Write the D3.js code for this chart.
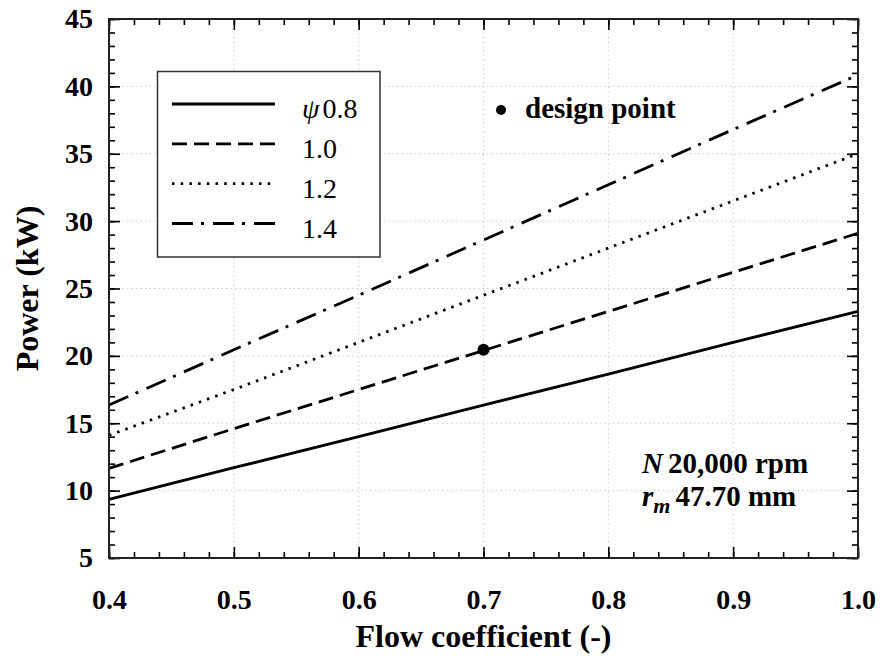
<!DOCTYPE html>
<html>
<head>
<meta charset="utf-8">
<script src="https://cdn.jsdelivr.net/npm/d3@7"></script>
</head>
<body style="margin:0; background:#fff">
<svg id="chart" width="881" height="661"></svg>
<script>
// flow coefficient samples
const phi = [0.4, 0.5, 0.6, 0.7, 0.8, 0.9, 1.0];

// power (kW), one array per loading coefficient
const psi08 = [9.35, 11.7, 14.0, 16.35, 18.65, 21.0, 23.3];
const psi10 = [11.65, 14.6, 17.5, 20.4, 23.3, 26.2, 29.1];
const psi12 = [14.1, 17.5, 21.0, 24.5, 28.0, 31.5, 35.0];
const psi14 = [16.35, 20.45, 24.5, 28.6, 32.7, 36.8, 40.85];

const seriesNames = ["0.8", "1.0", "1.2", "1.4"];
const designPoint = [0.7, 20.45];

const xTicks = [0.4, 0.5, 0.6, 0.7, 0.8, 0.9, 1.0];
const yTicks = [5, 10, 15, 20, 25, 30, 35, 40, 45];

const FONT = '"Liberation Serif"';

const width = 881, height = 661;
const margin = { left: 109, right: 23, top: 19, bottom: 103 };
const W = width - margin.left - margin.right;
const H = height - margin.top - margin.bottom;

const svg = d3.select("#chart");
const g = svg.append("g").attr("transform", `translate(${margin.left},${margin.top})`);

const x = d3.scaleLinear().domain([0.4, 1.0]).range([0, W]);
const y = d3.scaleLinear().domain([5, 45]).range([H, 0]);

// set font directly on each text
function font(sel, size, weight, italic) {
  return sel
    .attr("font-family", FONT)
    .style("font-family", FONT)
    .style("font-size", size + "px")
    .style("font-weight", weight || "normal")
    .style("font-style", italic ? "italic" : "normal");
}

// grid
g.append("g")
  .selectAll("line")
  .data(xTicks.slice(1, -1))
  .join("line")
  .attr("x1", d => x(d)).attr("x2", d => x(d))
  .attr("y1", 0).attr("y2", H)
  .attr("stroke", "#cfcfcf").attr("stroke-width", 1).attr("stroke-dasharray", "1.5 3");

g.append("g")
  .selectAll("line")
  .data(yTicks.slice(1, -1))
  .join("line")
  .attr("y1", d => y(d)).attr("y2", d => y(d))
  .attr("x1", 0).attr("x2", W)
  .attr("stroke", "#cfcfcf").attr("stroke-width", 1).attr("stroke-dasharray", "1.5 3");

// minor + major ticks on all four sides
const xMinor = d3.range(0.4, 1.0001, 0.02).map(d => +d.toFixed(2));
const yMinor = d3.range(5, 45.001, 1);

function tickAxis(axis, scale, values, size, fmt, pad) {
  return axis(scale).tickValues(values).tickSize(-size).tickPadding(pad).tickFormat(fmt);
}

const axes = [
  [tickAxis(d3.axisBottom, x, xMinor, 6, "", 0), `translate(0,${H})`],
  [tickAxis(d3.axisTop, x, xMinor, 6, "", 0), null],
  [tickAxis(d3.axisLeft, y, yMinor, 6, "", 0), null],
  [tickAxis(d3.axisRight, y, yMinor, 6, "", 0), `translate(${W},0)`],
  [tickAxis(d3.axisTop, x, xTicks, 11, "", 0), null],
  [tickAxis(d3.axisRight, y, yTicks, 11, "", 0), `translate(${W},0)`],
  [tickAxis(d3.axisBottom, x, xTicks, 11, d3.format(".1f"), 31), `translate(0,${H})`],
  [tickAxis(d3.axisLeft, y, yTicks, 11, d3.format("d"), 16), null]
];

axes.forEach(([axis, tr]) => {
  const a = g.append("g").call(axis).attr("font-family", FONT);
  if (tr) a.attr("transform", tr);
  a.select(".domain").remove();
  a.selectAll(".tick line").attr("stroke", "#000").attr("stroke-width", 1.6);
  a.selectAll(".tick text").attr("fill", "#000").call(font, 28, "bold");
  a.selectAll(".tick text").filter(function () { return this.textContent === ""; }).remove();
});

// curves
const lineStyles = ["none", "15 7", "2.5 6.2", "21 8 3 9"];
const allSeries = [psi08, psi10, psi12, psi14];

const line = d3.line()
  .x((d, i) => x(phi[i]))
  .y(d => y(d));

const plot = g.append("g");
allSeries.forEach((s, i) => {
  plot.append("path")
    .datum(s)
    .attr("d", line)
    .attr("fill", "none")
    .attr("stroke", "#000")
    .attr("stroke-width", 2.8)
    .attr("stroke-dasharray", lineStyles[i]);
});

plot.append("circle")
  .attr("cx", x(designPoint[0]))
  .attr("cy", y(designPoint[1]))
  .attr("r", 6)
  .attr("fill", "#000");

// frame
g.append("rect")
  .attr("width", W).attr("height", H)
  .attr("fill", "none").attr("stroke", "#222").attr("stroke-width", 2);

// legend
const legend = svg.append("g");
legend.append("rect")
  .attr("x", 157.5).attr("y", 71.5).attr("width", 222.5).attr("height", 185.5)
  .attr("fill", "#fff").attr("stroke", "#333").attr("stroke-width", 1.5);

const rowY = d3.scalePoint().domain(seriesNames).range([104, 223.5]);
seriesNames.forEach((n, i) => {
  legend.append("line")
    .attr("x1", 172).attr("x2", 275)
    .attr("y1", rowY(n)).attr("y2", rowY(n))
    .attr("stroke", "#000").attr("stroke-width", 2.8)
    .attr("stroke-dasharray", lineStyles[i]);
  const t = legend.append("text")
    .attr("x", 302).attr("y", rowY(n) + 14)
    .call(font, 28);
  if (i === 0) {
    t.append("tspan").call(font, 28, "normal", true).text("ψ");
    t.append("tspan").call(font, 28).attr("dx", 3).text(n);
  } else {
    t.text(n);
  }
});

// design point label
svg.append("circle").attr("cx", 501).attr("cy", 110).attr("r", 5).attr("fill", "#000");
svg.append("text")
  .attr("x", 525).attr("y", 118)
  .call(font, 29, "bold")
  .text("design point");

// operating conditions
const t1 = svg.append("text").attr("x", 642).attr("y", 473).call(font, 29, "bold");
t1.append("tspan").call(font, 29, "bold", true).text("N");
t1.append("tspan").call(font, 29, "bold").attr("dx", 5).text("20,000 rpm");

const t2 = svg.append("text").attr("x", 642).attr("y", 506).call(font, 29, "bold");
t2.append("tspan").call(font, 29, "bold", true).text("r");
t2.append("tspan").call(font, 22, "bold", true).attr("dy", 7).text("m");
t2.append("tspan").call(font, 29, "bold").attr("dx", 5).attr("dy", -7).text("47.70 mm");

// axis titles
svg.append("text")
  .attr("x", margin.left + W / 2).attr("y", 647)
  .attr("text-anchor", "middle")
  .call(font, 32, "bold")
  .text("Flow coefficient (-)");

svg.append("text")
  .attr("transform", `translate(38,${margin.top + H / 2}) rotate(-90)`)
  .attr("text-anchor", "middle")
  .call(font, 32, "bold")
  .text("Power (kW)");
</script>
</body>
</html>
